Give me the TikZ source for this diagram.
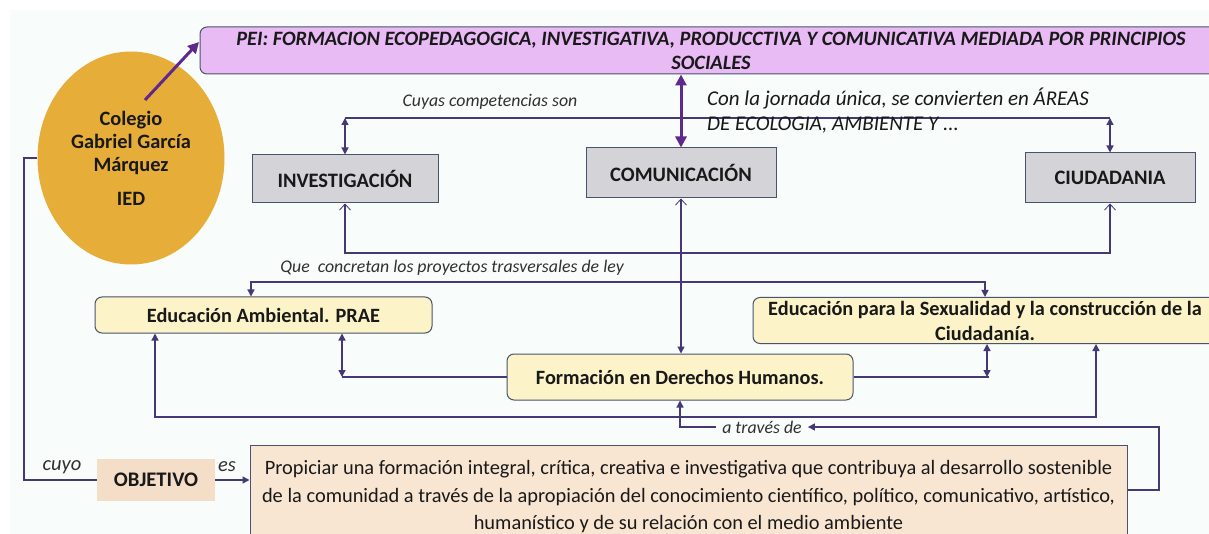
\documentclass[tikz,border=0pt]{standalone}
\usepackage{fontspec}
\setmainfont{Carlito}
\usetikzlibrary{arrows.meta,positioning,shapes.geometric}
\definecolor{fondo}{RGB}{248,252,250}
\definecolor{lila}{RGB}{233,187,245}
\definecolor{ocre}{RGB}{230,174,56}
\definecolor{gris}{RGB}{212,212,216}
\definecolor{crema}{RGB}{252,243,200}
\definecolor{beige}{RGB}{244,222,200}
\definecolor{beigec}{RGB}{249,230,210}
\definecolor{borde}{RGB}{72,84,108}
\definecolor{linea}{RGB}{70,56,118}
\definecolor{morado}{RGB}{95,40,140}
\definecolor{texto}{RGB}{25,25,25}
\tikzset{
  punta/.tip={Triangle[length=7pt,width=7pt]},
  barba/.tip={Straight Barb[length=6pt,width=11pt,line width=0.8pt]},
  gruesa/.tip={Triangle[length=11pt,width=11pt]},
  caja/.style={draw=borde,line width=1pt,align=center,text=texto,inner sep=0pt},
  cgris/.style={caja,fill=gris,font=\fontsize{20.5}{24}\selectfont\bfseries},
  camarilla/.style={caja,fill=crema,rounded corners=7pt,font=\fontsize{20.3}{25}\selectfont\bfseries},
  linea/.style={draw=linea,line width=1.3pt},
  grueso/.style={draw=morado,line width=3pt},
  etiq/.style={text=texto!90,font=\fontsize{17.8}{20}\selectfont\itshape,inner sep=6pt}
}
\begin{document}
\begin{tikzpicture}[x=1pt,y=-1pt]
    \useasboundingbox (0,0) rectangle (1209,534);
    \fill[fondo] (10,10) rectangle (1209,534);
    %% PEI
    \node[caja,fill=lila,rounded corners=7pt,minimum width=1022pt,minimum height=47pt,font=\fontsize{20.4}{24}\selectfont\bfseries\itshape] (PEI) at (711,50.5) {PEI: FORMACION ECOPEDAGOGICA, INVESTIGATIVA, PRODUCCTIVA Y COMUNICATIVA MEDIADA POR PRINCIPIOS\\SOCIALES};
    %% colegio
    \node[ellipse,fill=ocre,minimum width=187pt,minimum height=213pt,align=center,text=texto,font=\fontsize{20.4}{23}\selectfont\bfseries] (COL) at (131,158) {Colegio\\Gabriel García\\Márquez\\[11pt]IED};
    \coordinate (ini) at (145,100);
    \coordinate (fin) at (199,42);
    \draw[grueso,-gruesa] (ini) -- (fin);
    %% competencias
    \node[cgris,minimum width=186pt,minimum height=48pt] (INV) at (345,179) {INVESTIGACIÓN};
    \node[cgris,minimum width=190pt,minimum height=50pt] (COM) at (681,173) {COMUNICACIÓN};
    \node[cgris,minimum width=170pt,minimum height=50pt] (CIU) at (1110,178) {CIUDADANIA};
    \draw[grueso,gruesa-gruesa] (COM.north |- PEI.south) -- (COM.north);
    \coordinate (c1) at (INV.north |- 0,118);
    \coordinate (c2) at (CIU.north |- 0,118);
    \draw[linea] (c1) -- (c2);
    \draw[linea,punta-punta] (c1) -- (INV.north);
    \draw[linea,punta-punta] (c2) -- (CIU.north);
    \node[etiq] (lcc) at (490,102) {Cuyas competencias son};
    \node[anchor=north west,align=left,inner sep=0pt,text=texto,font=\fontsize{21}{25}\selectfont\itshape] (jor) at (707,88) {Con la jornada única, se convierten en ÁREAS\\DE ECOLOGIA, AMBIENTE Y ...};
    \draw[linea,barba-barba] (INV.south) -- (INV.south |- 0,253) -| (CIU.south);
    %% proyectos
    \node[camarilla,minimum width=337pt,minimum height=36pt] (AMB) at (263.5,315) {Educación Ambiental. PRAE};
    \node[camarilla,minimum width=464pt,minimum height=46pt] (SEX) at (985,320.5) {Educación para la Sexualidad y la construcción de la\\Ciudadanía.};
    \node[camarilla,minimum width=346pt,minimum height=46pt] (FOR) at (680,377) {Formación en Derechos Humanos.};
    \draw[linea,barba-punta] (COM.south) -- (COM.south |- FOR.north);
    \coordinate (q1) at (251,282);
    \coordinate (q2) at (SEX.north |- q1);
    \draw[linea,punta-punta] (q1 |- AMB.north) -- (q1) -- (q2) -- (SEX.north);
    \node[etiq] (lqc) at (452,268) {Que\ \ concretan los proyectos trasversales de ley};
    \coordinate (b1) at (155,417);
    \coordinate (b2) at (1096,417);
    \draw[linea,punta-punta] (b1 |- AMB.south) -- (b1) -- (b2) -- (b2 |- SEX.south);
    \coordinate (d1) at (FOR.west -| 342,0);
    \coordinate (d2) at (FOR.east -| 987,0);
    \draw[linea] (FOR.west) -- (d1);
    \draw[linea,punta-punta] (d1) -- (d1 |- AMB.south);
    \draw[linea] (FOR.east) -- ([xshift=2pt]d2);
    \draw[linea,punta-punta] (d2) -- (d2 |- SEX.south);
    %% objetivo
    \node[fill=beige,minimum width=118pt,minimum height=42pt,inner sep=0pt,text=texto,font=\fontsize{20.7}{24}\selectfont\bfseries] (OBJ) at (156,480) {OBJETIVO};
    \node[caja,fill=beigec,minimum width=877pt,minimum height=100pt,text depth=0pt,font=\fontsize{20.4}{27.5}\selectfont] (BIG) at (688.5,495) {Propiciar una formación integral, crítica, creativa e investigativa que contribuya al desarrollo sostenible\\de la comunidad a través de la apropiación del conocimiento científico, político, comunicativo, artístico,\\humanístico y de su relación con el medio ambiente};
    \draw[linea] (COL.west) -| (24,480) -- (OBJ.west);
    \node[etiq,font=\fontsize{20.5}{22}\selectfont\itshape] (lcu) at (62,467) {cuyo};
    \draw[linea,-punta] (OBJ.east) -- (OBJ.east -| BIG.west);
    \node[etiq,font=\fontsize{20.5}{22}\selectfont\itshape] (les) at (227,467) {es};
    \node[etiq] (atd) at (762,427) {a través de};
    \draw[linea,-punta] (BIG.east |- 0,490) -- (1159,490) |- (atd.east);
    \draw[linea,-punta] (atd.west) -| (FOR.south);
\end{tikzpicture}
\end{document}
